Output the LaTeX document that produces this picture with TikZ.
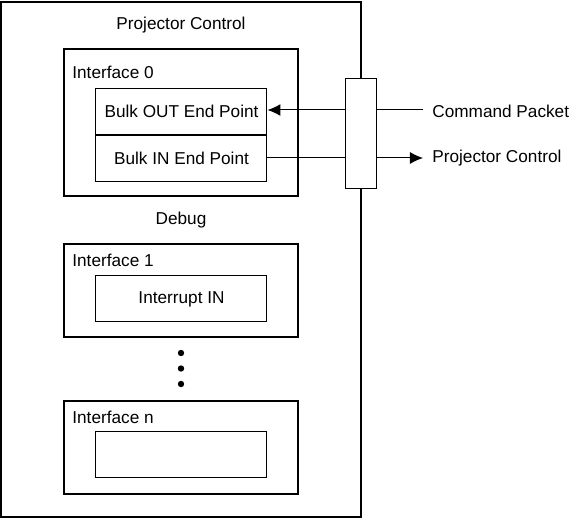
\documentclass[tikz,border=0pt]{standalone}
\usepackage{fontspec}
\setmainfont{Liberation Sans}
\usetikzlibrary{arrows.meta,positioning}

\begin{document}
\begin{tikzpicture}[
  x=0.5pt,y=-0.5pt,
  every node/.style={font=\fontsize{8.6}{10}\selectfont,inner sep=0pt},
  pipe/.style={->,>={Latex[length=6.5pt,width=6pt]},line width=0.5pt},
  frame/.style={draw,line width=1pt,minimum width=#1*0.5pt},
  ifbox/.style={draw,line width=1pt,minimum width=117pt,minimum height=#1*0.5pt},
  epbox/.style={draw,line width=0.5pt,fill=white,minimum width=85.5pt,minimum height=23pt},
  ]
  \useasboundingbox (0,0) rectangle (570,519);
  % outer device
  \node(device)[frame=360,minimum height=257.5pt] at (181,259.5){};
  \node(devtitle) at (181,25){Projector Control};
  % interface 0
  \node(if0)[ifbox=147] at (181,122.5){};
  \node(if0lbl)[anchor=west] at (72,72){Interface 0};
  \node(bulkout)[epbox] at (181.5,111.5){Bulk OUT End Point};
  \node(bulkin)[epbox,below=0pt of bulkout]{Bulk IN End Point};
  \node(debug) at (181,220){Debug};
  % interface 1
  \node(if1)[ifbox=93] at (181,290.5){};
  \node(if1lbl)[anchor=west] at (72,260){Interface 1};
  \node(intin)[epbox] at (181.5,299){Interrupt IN};
  % dots
  \foreach \y in {353,368.5,384}
    \fill (181,\y) circle (1.6pt);
  % interface n
  \node(ifn)[ifbox=93] at (181,447.5){};
  \node(ifnlbl)[anchor=west] at (72,417){Interface n};
  \node(epn)[epbox] at (181.5,455){};
  % pipes to the host
  \coordinate(cmdin) at (423,110);
  \coordinate(ctlout) at (423,158);
  \draw[pipe] (cmdin) -- (bulkout.east|-cmdin);
  \draw[pipe] (bulkin.east|-ctlout) -- (ctlout);
  \node(conn)[draw,line width=0.5pt,fill=white,minimum width=15.5pt,minimum height=55pt] at (361,134){};
  \node(cmdlbl)[anchor=west] at (432,111){Command Packet};
  \node(ctllbl)[anchor=west] at (432,158){Projector Control};
\end{tikzpicture}
\end{document}
